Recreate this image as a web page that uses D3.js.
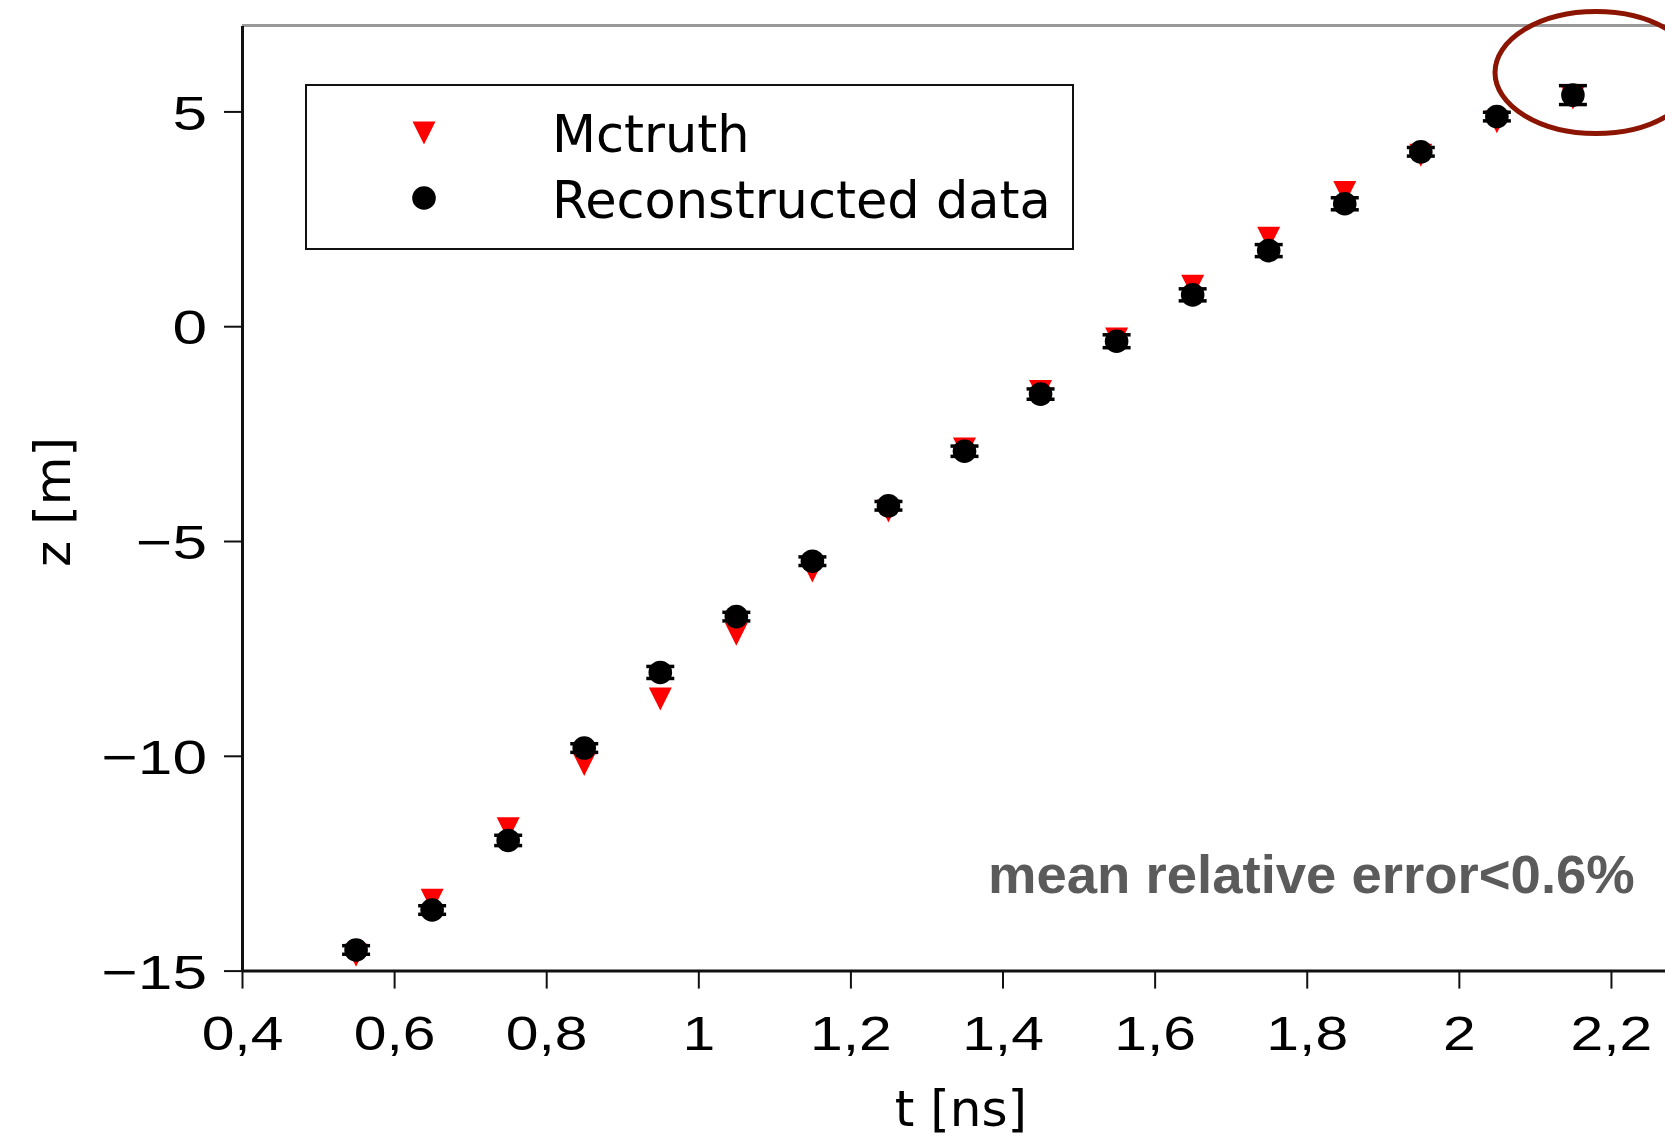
<!DOCTYPE html>
<html>
<head>
<meta charset="utf-8">
<script src="https://cdn.jsdelivr.net/npm/d3@7"></script>
<style>
  html, body { margin: 0; padding: 0; background: #fff; }
  svg { display: block; }
</style>
</head>
<body>
<div id="chart"></div>
<script>
// Time bins (ns)
const tValues = [0.55, 0.65, 0.75, 0.85, 0.95, 1.05, 1.15, 1.25, 1.35, 1.45, 1.55, 1.65, 1.75, 1.85, 1.95, 2.05, 2.15];
// Monte Carlo truth z (m)
const zTruth = [-14.64, -13.36, -11.70, -10.20, -8.68, -7.17, -5.70, -4.30, -2.86, -1.52, -0.30, 0.93, 2.05, 3.11, 3.98, 4.76, 5.31];
// Reconstructed z (m) and its uncertainty
const zReco = [-14.52, -13.59, -11.97, -9.82, -8.06, -6.76, -5.47, -4.18, -2.91, -1.58, -0.35, 0.73, 1.76, 2.85, 4.06, 4.88, 5.38];
const zRecoErr = [0.10, 0.10, 0.12, 0.10, 0.14, 0.10, 0.10, 0.10, 0.12, 0.12, 0.15, 0.14, 0.14, 0.14, 0.10, 0.10, 0.22];
// Axis ticks
const xTicks = [0.4, 0.6, 0.8, 1.0, 1.2, 1.4, 1.6, 1.8, 2.0, 2.2];
const yTicks = [-15, -10, -5, 0, 5];
const xDomain = [0.4, 2.3];
const yDomain = [-15, 7];
const legendLabels = ["Mctruth", "Reconstructed data"];
const xTitle = "t [ns]";
const yTitle = "z [m]";
const note = "mean relative error<0.6%";

const W = 1665, H = 1138;
const plot = { left: 242, top: 25.5, bottom: 970.6, right: 1687 };

const svg = d3.select("#chart").append("svg")
  .attr("width", W).attr("height", H)
  .style("font-family", "'DejaVu Sans', sans-serif");

const x = d3.scaleLinear().domain(xDomain).range([plot.left, plot.right]);
const y = d3.scaleLinear().domain(yDomain).range([plot.bottom, plot.top]);

const locale = d3.formatLocale({ decimal: ",", thousands: ".", grouping: [3], currency: ["", ""] });
const fmt = locale.format("~g");

// widen tick labels horizontally
function stretch(sel, factor) {
  sel.each(function () {
    const w = this.getComputedTextLength();
    d3.select(this).attr("textLength", w * factor).attr("lengthAdjust", "spacingAndGlyphs");
  });
}

// frame: top edge in grey
svg.append("line")
  .attr("x1", plot.left).attr("x2", W)
  .attr("y1", plot.top).attr("y2", plot.top)
  .attr("stroke", "#999").attr("stroke-width", 3);

// x axis
const gx = svg.append("g")
  .attr("transform", `translate(0,${plot.bottom})`)
  .call(d3.axisBottom(x).tickValues(xTicks).tickFormat(fmt).tickSize(18).tickSizeOuter(0));
gx.select(".domain").attr("stroke", "#111").attr("stroke-width", 3);
gx.selectAll(".tick line").attr("stroke", "#111").attr("stroke-width", 2);
gx.selectAll(".tick text")
  .attr("dy", null).attr("y", 79)
  .attr("fill", "#000")
  .style("font-size", "49px")
  .call(stretch, 1.2);

// y axis
const gy = svg.append("g")
  .attr("transform", `translate(${plot.left},0)`)
  .call(d3.axisLeft(y).tickValues(yTicks).tickFormat(d3.format("d")).tickSize(18).tickPadding(17).tickSizeOuter(0));
gy.select(".domain").attr("stroke", "#111").attr("stroke-width", 3);
gy.selectAll(".tick line").attr("stroke", "#111").attr("stroke-width", 2);
gy.selectAll(".tick text")
  .attr("dy", "0.36em")
  .attr("fill", "#000")
  .style("font-size", "49px")
  .call(stretch, 1.27);

// axis titles
svg.append("text")
  .attr("x", 961).attr("y", 1126)
  .attr("text-anchor", "middle")
  .style("font-size", "50px")
  .text(xTitle);

svg.append("text")
  .attr("transform", "translate(70,502) rotate(-90)")
  .attr("text-anchor", "middle")
  .style("font-size", "50px")
  .text(yTitle);

// downward triangle marker, centred on its bounding box
const triSize = 23;
const triPath = (cx, cy) => {
  const h = triSize / 2;
  return `M${cx - h},${cy - h}L${cx + h},${cy - h}L${cx},${cy + h}Z`;
};

const points = tValues.map((t, i) => ({ t, truth: zTruth[i], reco: zReco[i], err: zRecoErr[i] }));

// Monte Carlo truth
svg.append("g").selectAll("path")
  .data(points).join("path")
  .attr("d", d => triPath(x(d.t), y(d.truth)))
  .attr("fill", "#ff0000");

// reconstructed error bars
const eb = svg.append("g").attr("stroke", "#000").attr("stroke-width", 3.5);
const capW = 14;
eb.selectAll("line.bar").data(points).join("line").attr("class", "bar")
  .attr("x1", d => x(d.t)).attr("x2", d => x(d.t))
  .attr("y1", d => y(d.reco - d.err)).attr("y2", d => y(d.reco + d.err));
eb.selectAll("line.capTop").data(points).join("line").attr("class", "capTop")
  .attr("x1", d => x(d.t) - capW).attr("x2", d => x(d.t) + capW)
  .attr("y1", d => y(d.reco + d.err)).attr("y2", d => y(d.reco + d.err));
eb.selectAll("line.capBot").data(points).join("line").attr("class", "capBot")
  .attr("x1", d => x(d.t) - capW).attr("x2", d => x(d.t) + capW)
  .attr("y1", d => y(d.reco - d.err)).attr("y2", d => y(d.reco - d.err));

// reconstructed points
svg.append("g").selectAll("circle")
  .data(points).join("circle")
  .attr("cx", d => x(d.t)).attr("cy", d => y(d.reco))
  .attr("r", 11.8)
  .attr("fill", "#000");

// legend
const lg = svg.append("g");
lg.append("rect")
  .attr("x", 306).attr("y", 85)
  .attr("width", 767).attr("height", 164)
  .attr("fill", "#fff").attr("stroke", "#111").attr("stroke-width", 2);
lg.append("path").attr("d", triPath(424, 133)).attr("fill", "#ff0000");
lg.append("circle").attr("cx", 424).attr("cy", 198).attr("r", 11.8).attr("fill", "#000");
lg.append("text").attr("x", 552).attr("y", 152).style("font-size", "51px").text(legendLabels[0]);
lg.append("text").attr("x", 552).attr("y", 218).style("font-size", "51px").text(legendLabels[1]);

// summary note
svg.append("text")
  .attr("x", 988).attr("y", 893)
  .style("font-family", "'Liberation Sans', Arial, sans-serif")
  .style("font-weight", "bold")
  .style("font-size", "54.5px")
  .attr("fill", "#5b5b5b")
  .text(note);

// highlight around the last point
svg.append("ellipse")
  .attr("cx", 1596).attr("cy", 72.5)
  .attr("rx", 101).attr("ry", 61)
  .attr("fill", "none")
  .attr("stroke", "#8b1500").attr("stroke-width", 5);
</script>
</body>
</html>
